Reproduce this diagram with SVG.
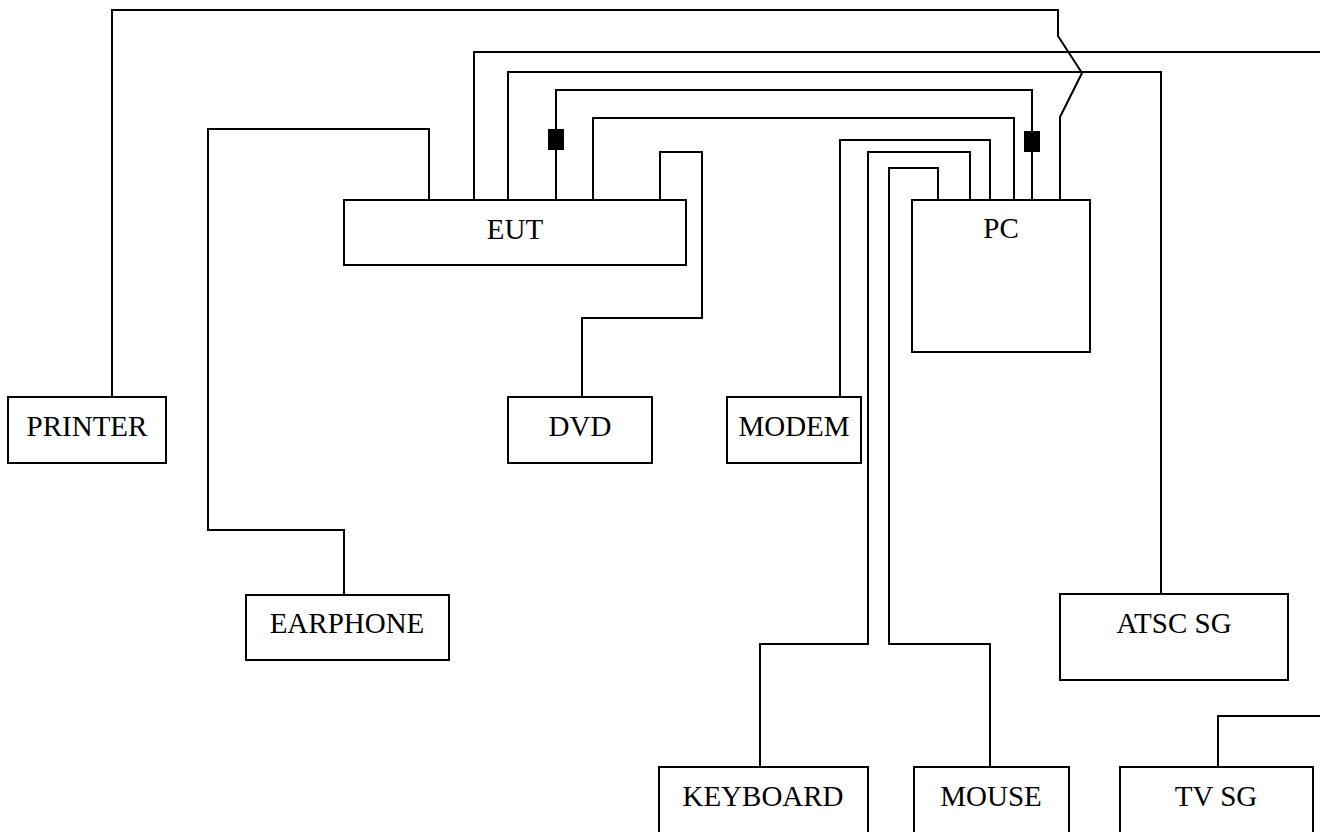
<svg xmlns="http://www.w3.org/2000/svg" width="1320" height="832" viewBox="0 0 1320 832">
<style>
.box{fill:#fff;stroke:#000;stroke-width:2}
.w{fill:none;stroke:#000;stroke-width:2;stroke-linejoin:miter}
.t{font-family:"Liberation Serif","Times New Roman",serif;font-size:29px;fill:#000;text-anchor:middle}
.fe{fill:#000}
</style>
<rect width="1320" height="832" fill="#fff"/>
<g id="connectors">
<path class="w" d="M112,397 V10 H1058 V36 L1082,73 L1060,117 V200"/>
<path class="w" d="M474,200 V52 H1320"/>
<path class="w" d="M508,200 V72 H1161 V594"/>
<path class="w" d="M556,200 V90 H1032 V200"/>
<path class="w" d="M593,200 V118 H1014 V200"/>
<path class="w" d="M660,200 V152 H702 V318 H582 V397"/>
<path class="w" d="M429,200 V129 H208 V530 H344 V595"/>
<path class="w" d="M840,397 V140 H990 V200"/>
<path class="w" d="M760,767 V644 H868 V152 H970 V200"/>
<path class="w" d="M990,767 V644 H889 V168 H938 V200"/>
<path class="w" d="M1218,767 V716 H1320"/>
<rect class="fe" x="548" y="129" width="16" height="21"/>
<rect class="fe" x="1024" y="131" width="16" height="21"/>
</g>
<g id="eut"><rect class="box" x="344" y="200" width="342" height="65"/><text class="t" x="515" y="239">EUT</text></g>
<g id="pc"><rect class="box" x="912" y="200" width="178" height="152"/><text class="t" x="1001" y="238">PC</text></g>
<g id="printer"><rect class="box" x="8" y="397" width="158" height="66"/><text class="t" x="87" y="436">PRINTER</text></g>
<g id="dvd"><rect class="box" x="508" y="397" width="144" height="66"/><text class="t" x="580" y="436">DVD</text></g>
<g id="modem"><rect class="box" x="727" y="397" width="134" height="66"/><text class="t" x="794" y="436">MODEM</text></g>
<g id="earphone"><rect class="box" x="246" y="595" width="203" height="65"/><text class="t" x="347" y="633">EARPHONE</text></g>
<g id="atsc"><rect class="box" x="1060" y="594" width="228" height="86"/><text class="t" x="1174" y="633">ATSC SG</text></g>
<g id="keyboard"><rect class="box" x="659" y="767" width="209" height="120"/><text class="t" x="763" y="806">KEYBOARD</text></g>
<g id="mouse"><rect class="box" x="914" y="767" width="155" height="120"/><text class="t" x="991" y="806">MOUSE</text></g>
<g id="tvsg"><rect class="box" x="1120" y="767" width="193" height="120"/><text class="t" x="1216" y="806">TV SG</text></g>
</svg>
